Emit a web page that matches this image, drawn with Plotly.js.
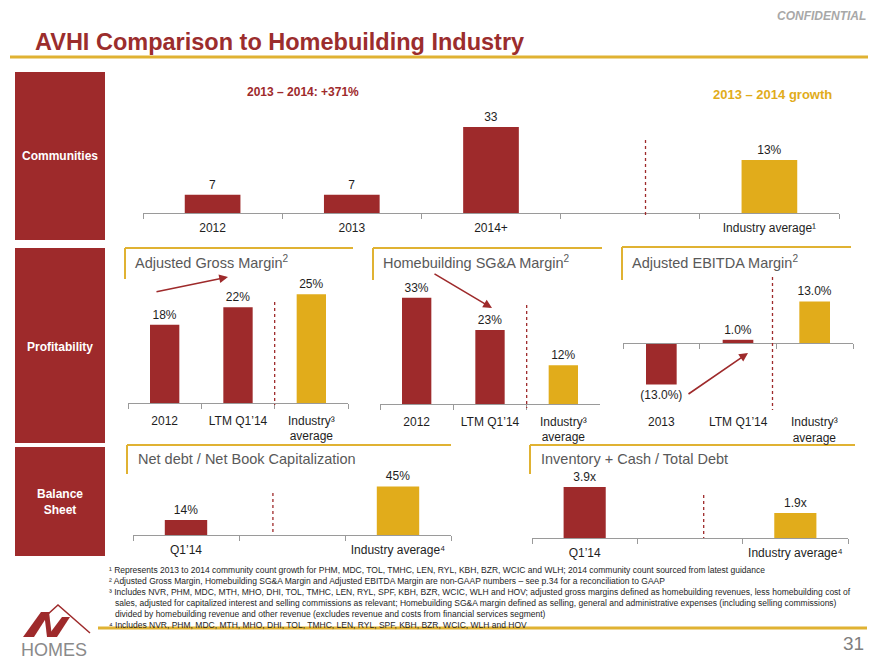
<!DOCTYPE html>
<html><head><meta charset="utf-8">
<script src="https://cdn.plot.ly/plotly-3.0.1.min.js"></script>
<style>html,body{margin:0;padding:0;background:#fff}#chart{width:880px;height:660px}</style>
</head><body><div id="chart"></div>
<script>
// ---------------- DATA ----------------
const communityCats = ['2012', '2013', '2014+'];
const communityCounts = [7, 7, 33];
const communityAxisCats = ['2012', '2013', '2014+', ' ', 'Industry average¹'];
const industryGrowthCat = ['Industry average¹'];
const industryGrowth = [13];

const marginCats = ['2012', 'LTM Q1’14'];
const marginIndustryCat = ['Industry³<br>average'];
const grossMargin = [18, 22];
const grossMarginIndustry = [25];
const sgaMargin = [33, 23];
const sgaMarginIndustry = [12];

const ebitdaCats = ['2013', 'LTM Q1’14'];
const ebitdaMargin = [-13.0, 1.0];
const ebitdaMarginIndustry = [13.0];

const balanceCats = ['Q1’14'];
const balanceAxisCats = ['Q1’14', ' ', 'Industry average⁴'];
const balanceIndustryCat = ['Industry average⁴'];
const netDebtToCap = [14];
const netDebtToCapIndustry = [45];
const invCashToDebt = [3.9];
const invCashToDebtIndustry = [1.9];

const footnotes = [
  '¹ Represents 2013 to 2014 community count growth for PHM, MDC, TOL, TMHC, LEN, RYL, KBH, BZR, WCIC and WLH; 2014 community count sourced from latest guidance',
  '² Adjusted Gross Margin, Homebuilding SG&amp;A Margin and Adjusted EBITDA Margin are non-GAAP numbers – see p.34 for a reconciliation to GAAP',
  '³ Includes NVR, PHM, MDC, MTH, MHO, DHI, TOL, TMHC, LEN, RYL, SPF, KBH, BZR, WCIC, WLH and HOV; adjusted gross margins defined as homebuilding revenues, less homebuilding cost of',
  'sales, adjusted for capitalized interest and selling commissions as relevant; Homebuilding SG&amp;A margin defined as selling, general and administrative expenses (including selling commissions)',
  'divided by homebuilding revenue and other revenue (excludes revenue and costs from financial services segment)',
  '⁴ Includes NVR, PHM, MDC, MTH, MHO, DHI, TOL, TMHC, LEN, RYL, SPF, KBH, BZR, WCIC, WLH and HOV'
];

// ---------------- HELPERS ----------------
const W = 880, H = 660;
const PX = x => x / W, PY = y => 1 - y / H;
const RED = '#9E2A2B', GOLD = '#E1AC1B', TXT = '#1e1e1e', AXC = '#9a9a9a';
const FONT = '"Liberation Sans", Arial, sans-serif';

const pct = v => v + '%';
const pct1 = v => v < 0 ? '(' + Math.abs(v).toFixed(1) + '%)' : v.toFixed(1) + '%';
const mult = v => v.toFixed(1) + 'x';

function bar(x, y, xa, ya, color, fmt) {
  return {
    type: 'bar', x: x, y: y, xaxis: xa, yaxis: ya, width: 0.4,
    marker: {color: color, line: {width: 0}},
    text: y.map(fmt), textposition: 'outside', cliponaxis: false, constraintext: 'none',
    textfont: {family: FONT, size: 12, color: TXT},
    hoverinfo: 'skip'
  };
}
function xAxis(l, r, anchor, cats, extra) {
  return Object.assign({
    domain: [PX(l), PX(r)], anchor: anchor, type: 'category',
    categoryorder: 'array', categoryarray: cats, range: [-0.5, cats.length - 0.5],
    tickson: 'boundaries', ticks: 'outside', ticklen: 5, tickwidth: 1, tickcolor: AXC,
    showline: true, linecolor: AXC, linewidth: 1.3, showgrid: false, zeroline: false,
    ticklabelstandoff: 3,
    tickfont: {family: FONT, size: 12, color: TXT}, fixedrange: true
  }, extra || {});
}
function yAxis(top, base, pxPerUnit, anchor) {
  return {domain: [PY(base), PY(top)], range: [0, (base - top) / pxPerUnit],
          visible: false, anchor: anchor, fixedrange: true};
}

// ---------------- TRACES ----------------
const traces = [
  bar(communityCats, communityCounts, 'x', 'y', RED, String),
  bar(industryGrowthCat, industryGrowth, 'x', 'y2', GOLD, pct),
  bar(marginCats, grossMargin, 'x2', 'y3', RED, pct),
  bar(marginIndustryCat, grossMarginIndustry, 'x2', 'y3', GOLD, pct),
  bar(marginCats, sgaMargin, 'x3', 'y4', RED, pct),
  bar(marginIndustryCat, sgaMarginIndustry, 'x3', 'y4', GOLD, pct),
  bar(ebitdaCats, ebitdaMargin, 'x4', 'y5', RED, pct1),
  bar(marginIndustryCat, ebitdaMarginIndustry, 'x4', 'y5', GOLD, pct1),
  bar(balanceCats, netDebtToCap, 'x5', 'y6', RED, pct),
  bar(balanceIndustryCat, netDebtToCapIndustry, 'x5', 'y6', GOLD, pct),
  bar(balanceCats, invCashToDebt, 'x6', 'y7', RED, mult),
  bar(balanceIndustryCat, invCashToDebtIndustry, 'x6', 'y7', GOLD, mult)
];

// EBITDA axis with zero crossing
const eTop = 280, eBot = 400, eZero = 343, ePx = 3.2;
const eRange = [-(eBot - eZero) / ePx, (eZero - eTop) / ePx];
const ebitdaAxisCats = ebitdaCats.concat(marginIndustryCat);

const layout = {
  width: W, height: H, margin: {l: 0, r: 0, t: 0, b: 0},
  paper_bgcolor: '#fff', plot_bgcolor: 'rgba(0,0,0,0)',
  showlegend: false, hovermode: false, barmode: 'overlay',
  font: {family: FONT, color: TXT},
  xaxis: xAxis(143, 839, 'y', communityAxisCats),
  yaxis: yAxis(100, 213, 2.606, 'x'),
  yaxis2: {overlaying: 'y', anchor: 'x', range: [0, 113 / 4.08], visible: false, fixedrange: true},
  xaxis2: xAxis(128, 348, 'y3', marginCats.concat(marginIndustryCat), {ticklabelstandoff: 6}),
  yaxis3: yAxis(280, 403, 4.35, 'x2'),
  xaxis3: xAxis(380, 600, 'y4', marginCats.concat(marginIndustryCat), {ticklabelstandoff: 6}),
  yaxis4: yAxis(280, 404, 3.22, 'x3'),
  xaxis4: xAxis(623, 853, 'free', ebitdaAxisCats, {showticklabels: false,
           position: PY(eBot) + (0 - eRange[0]) / (eRange[1] - eRange[0]) * (PY(eTop) - PY(eBot))}),
  yaxis5: {domain: [PY(eBot), PY(eTop)], range: eRange, visible: false, anchor: 'x4', fixedrange: true},
  xaxis5: xAxis(133, 451, 'y6', balanceAxisCats),
  yaxis6: yAxis(470, 535, 1.08, 'x5'),
  xaxis6: xAxis(532, 848, 'y7', balanceAxisCats),
  yaxis7: yAxis(470, 538, 13.1, 'x6'),
  shapes: [],
  annotations: []
};

const S = layout.shapes, A = layout.annotations;
function pline(x0, y0, x1, y1, color, w) {
  S.push({type: 'line', xref: 'paper', yref: 'paper', x0: PX(x0), y0: PY(y0), x1: PX(x1), y1: PY(y1),
          line: {color: color, width: w}});
}
function prect(x0, y0, x1, y1, color) {
  S.push({type: 'rect', xref: 'paper', yref: 'paper', x0: PX(x0), y0: PY(y0), x1: PX(x1), y1: PY(y1),
          fillcolor: color, line: {width: 0}, layer: 'below'});
}
function dashed(xref, xpos, y0, y1) {
  S.push({type: 'line', xref: xref, yref: 'paper', x0: xpos, x1: xpos, y0: PY(y0), y1: PY(y1),
          line: {color: RED, width: 1.3, dash: '3px,3px'}});
}
function ppath(pts, fill, line) {
  const d = pts.map((p, i) => (i ? 'L' : 'M') + PX(p[0]) + ',' + PY(p[1])).join(' ') + (fill ? ' Z' : '');
  S.push({type: 'path', xref: 'paper', yref: 'paper', path: d,
          fillcolor: fill || 'rgba(0,0,0,0)', line: line || {width: 0}});
}
function text(x, y, t, opts) {
  A.push(Object.assign({xref: 'paper', yref: 'paper', x: PX(x), y: PY(y), text: t, showarrow: false,
    xanchor: 'left', yanchor: 'middle', font: {family: FONT, size: 12, color: TXT}}, opts || {}));
}
function arrow(tx, ty, hx, hy) {
  A.push({xref: 'paper', yref: 'paper', x: PX(hx), y: PY(hy), ax: tx - hx, ay: ty - hy, text: '',
          showarrow: true, arrowhead: 2, arrowsize: 1.1, arrowwidth: 1.6, arrowcolor: RED});
}

// header
text(868, 16, '<b><i>CONFIDENTIAL</i></b>', {xanchor: 'right', font: {family: FONT, size: 12, color: '#a8a8a8'}});
text(33, 42, '<b>AVHI Comparison to Homebuilding Industry</b>', {font: {family: FONT, size: 23.5, color: '#9B2D2D'}});
pline(10, 57, 868, 57, '#E0B232', 3);

// section boxes
prect(15, 72, 105, 240, RED);
prect(15, 248, 105, 443, RED);
prect(15, 447, 105, 556, RED);
const white = {family: FONT, size: 12, color: '#fff'};
text(60, 156, '<b>Communities</b>', {xanchor: 'center', font: white});
text(60, 347, '<b>Profitability</b>', {xanchor: 'center', font: white});
text(60, 502, '<b>Balance<br>Sheet</b>', {xanchor: 'center', font: white});

// communities headers
const growthPct = Math.round((communityCounts[2] / communityCounts[1] - 1) * 100);
text(303, 92, '<b>2013 – 2014: +' + growthPct + '%</b>', {xanchor: 'center', font: {family: FONT, size: 12, color: RED}});
text(772, 95, '<b>2013 – 2014 growth</b>', {xanchor: 'center', font: {family: FONT, size: 13, color: GOLD}});
dashed('x', 3.11, 140, 218);

// panel frames + titles
const gold = '#E0B232';
const ptitle = {family: FONT, size: 14.5, color: '#595959'};
[[125, 248, 353, 279], [373, 248, 602, 280], [622, 247, 851, 280], [127, 445, 451, 474], [530, 445, 855, 474]]
  .forEach(f => { pline(f[0], f[1], f[2], f[1], gold, 2); pline(f[0], f[1], f[0], f[3], gold, 2); });
text(133, 262, 'Adjusted Gross Margin<sup>2</sup>', {font: ptitle});
text(381, 262, 'Homebuilding SG&amp;A Margin<sup>2</sup>', {font: ptitle});
text(630, 262, 'Adjusted EBITDA Margin<sup>2</sup>', {font: ptitle});
text(136, 459, 'Net debt / Net Book Capitalization', {font: ptitle});
text(539, 459, 'Inventory + Cash / Total Debt', {font: ptitle});

// dashed separators
dashed('x2', 1.5, 302, 405);
dashed('x3', 1.5, 305, 408);
dashed('x4', 1.45, 277, 410);
dashed('x5', 0.82, 493, 535);
dashed('x6', 1.13, 495, 538);

// arrows
arrow(155, 292, 228, 277);
arrow(433, 273, 492, 308);
arrow(687, 395, 748, 353);

// EBITDA category labels (below the chart), positioned by category index
ebitdaAxisCats.forEach((c, i) => A.push({xref: 'x4', yref: 'paper', x: i,
  y: PY(c.indexOf('<br>') >= 0 ? 429.5 : 422), text: c, showarrow: false,
  xanchor: 'center', yanchor: 'middle', font: {family: FONT, size: 12, color: TXT}}));

// footnotes
const fnY = [570, 581, 592, 603, 614, 625];
footnotes.forEach((f, i) => text(i === 3 || i === 4 ? 113 : 107, fnY[i], f,
  {font: {family: FONT, size: 8.5, color: TXT}}));
pline(98, 628, 867, 628, '#E0B232', 3);
text(866, 643, '31', {xanchor: 'right', font: {family: FONT, size: 19, color: '#7f7f7f'}});

// logo
ppath([[37, 624], [58, 605], [90, 633]], null, {color: RED, width: 1.5});
ppath([[23, 637], [34, 637], [50, 612], [41, 612]], RED);
ppath([[44, 612], [49, 612], [52, 637], [47, 637]], RED);
ppath([[47, 637], [57, 637], [70, 617], [62, 617]], RED);
text(54, 650, 'HOMES', {xanchor: 'center', font: {family: FONT, size: 18, color: '#8a8a8a'}});

Plotly.newPlot('chart', traces, layout, {staticPlot: true, displayModeBar: false});
</script>
</body></html>
